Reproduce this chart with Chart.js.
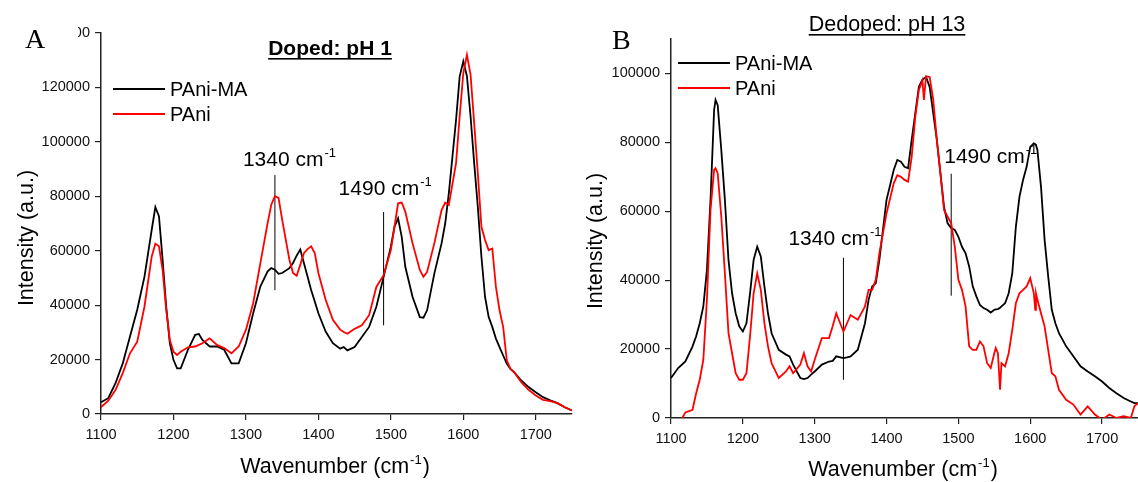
<!DOCTYPE html>
<html>
<head>
<meta charset="utf-8">
<script src="https://cdn.jsdelivr.net/npm/chart.js"></script>
<style>
  html, body { margin: 0; padding: 0; background: #fff; }
  #wrap { position: relative; width: 1138px; height: 482px; overflow: hidden; }
  canvas { position: absolute; top: 0; }
</style>
</head>
<body>
<div id="wrap">
  <canvas id="chartA" width="580" height="482" style="left:0"></canvas>
  <canvas id="chartB" width="558" height="482" style="left:580px"></canvas>
</div>
<script>
// Panel A: doped, pH 1
const aWave = [1100,1110,1120,1130,1140,1150,1160,1170,1175,1180,1185,1190,1195,1200,1205,1210,1220,1230,1235,1240,
  1250,1260,1270,1280,1290,1300,1310,1320,1330,1335,1340,1345,1350,1360,1365,1370,1375,1380,1385,1390,
  1395,1400,1410,1420,1430,1435,1440,1450,1460,1470,1480,1490,1500,1505,1510,1515,1520,1530,1540,1545,
  1550,1560,1570,1575,1580,1590,1595,1600,1605,1610,1615,1620,1625,1630,1635,1640,1645,1650,1655,1660,
  1665,1670,1680,1690,1700,1710,1720,1730,1740,1750];
const aPaniMA = [4300,5800,11300,18600,28500,38300,50500,67700,76000,72700,56700,39500,26000,19900,16800,16800,23600,29100,29400,27200,
  24800,24800,23600,18600,18600,26000,37000,46900,52400,53600,53000,51500,51800,53600,55500,58200,60400,55500,50500,45600,
  41300,37000,30300,26000,24000,24600,23400,24600,28300,32000,39400,50400,61500,68800,71900,65100,54000,43000,35600,35400,
  38100,51600,62700,70000,81100,108100,124100,129600,124100,109400,92200,76200,57800,43000,35600,32000,27700,24600,21500,18500,
  16600,15400,12300,9900,8000,6200,5000,4000,2500,1300];
const aPani = [2450,4900,8800,15000,22300,26600,39500,57900,62600,61600,53000,38300,27200,22900,21700,22900,24500,24800,25400,26000,
  27800,25400,24200,22300,24800,30900,40700,55500,70200,76900,80000,79400,71400,56700,51800,50800,54800,59100,60600,61600,
  59100,51800,42000,34600,31000,30100,29500,31300,32600,36300,46700,51000,60200,68800,77400,77700,74300,62700,52900,50400,
  52200,62700,74900,77700,76800,92200,109400,125300,132000,124700,106900,88500,68800,63900,60200,60800,46700,38100,32000,19700,
  16600,15400,11700,8900,6800,5200,4700,4000,2500,1300];

// Panel B: dedoped, pH 13
const bWave = [1100,1110,1120,1130,1135,1140,1145,1150,1155,1160,1162,1165,1170,1175,1180,1185,1190,1195,1200,1205,
  1210,1215,1220,1225,1230,1235,1240,1250,1260,1265,1270,1280,1285,1290,1295,1300,1310,1320,1325,1330,
  1340,1345,1350,1360,1370,1375,1380,1385,1390,1400,1410,1415,1420,1425,1430,1435,1440,1445,1450,1452,
  1455,1460,1465,1470,1475,1480,1485,1490,1495,1500,1505,1510,1515,1520,1525,1530,1535,1540,1545,1550,
  1552,1555,1558,1560,1565,1570,1575,1580,1585,1590,1595,1600,1605,1607,1608,1610,1615,1620,1625,1630,
  1635,1640,1650,1660,1670,1680,1690,1700,1710,1720,1730,1740,1745,1750];
const bPaniMA = [11600,14500,16400,20800,23700,27500,32400,43000,63300,89400,92300,90800,77800,63300,45900,36200,30400,26600,25100,27500,
  36200,45900,49700,46900,38200,30400,24600,19800,18400,17900,15500,11600,11300,11600,12600,13500,15500,16400,16600,17900,
  17400,17600,17900,19800,27500,34300,38200,39100,45900,63300,72000,74900,74400,72900,72500,80700,88400,96100,98200,98500,
  99000,96100,88400,80700,71000,61300,56500,55100,54600,52600,49700,47800,44000,38200,35300,32800,31900,31400,30600,31400,
  31500,31600,32000,32400,33300,36200,42000,55500,64200,69100,72900,78700,79700,79500,79200,77800,67100,51700,41100,31400,
  27500,24600,20800,17900,15000,13500,12100,10600,8700,7200,5800,4800,4300,4300];
const bPani = [-6000,-2000,1600,2400,7200,11100,16900,34300,60400,72000,72500,71000,58400,42000,24600,18800,13000,11100,11100,13000,
  23700,36200,42000,37200,27500,20800,15900,11600,13500,15000,13000,15500,18800,15000,13500,16900,23200,23200,26600,30400,
  25100,27500,29900,28500,32400,37200,37200,40100,47800,59400,68100,70500,70000,69100,68600,75800,87400,95200,98000,92300,
  99200,99000,92300,80700,71000,60400,58400,56500,49700,40100,37200,32400,20800,19800,19800,22200,20800,15900,14500,18800,
  20300,18800,8200,15900,15000,18800,25600,33300,36200,37200,38200,40600,36200,31400,36200,34300,30400,26600,19800,13000,
  12100,8200,5300,3900,1000,3400,1000,-500,1000,0,500,0,3400,4300];

const seriesNames = ['PAni-MA', 'PAni'];
const xTickValues = [1100, 1200, 1300, 1400, 1500, 1600, 1700];
const aYTicks = [0, 20000, 40000, 60000, 80000, 100000, 120000, 140000];
const bYTicks = [0, 20000, 40000, 60000, 80000, 100000];

// marker lines at 1340 and 1490 cm-1
const markWave = [1340, 1490];
const aMarkLow = [45500, 32600];
const aMarkHigh = [87800, 74200];
const bMarkLow = [11100, 35500];
const bMarkHigh = [46500, 70900];

Chart.defaults.font.family = '"Liberation Sans", Arial, sans-serif';
Chart.defaults.color = '#111';

const FONT = '"Liberation Sans", Arial, sans-serif';

function pts(xs, ys) {
  return xs.map((x, i) => ({ x: x, y: ys[i] }));
}

// text with a "-1" superscript after base
function drawSup(ctx, x, y, base, tail, size, align) {
  const supSize = Math.round(size * 0.62);
  ctx.font = size + 'px ' + FONT;
  const w1 = ctx.measureText(base).width;
  const w3 = ctx.measureText(tail).width;
  ctx.font = supSize + 'px ' + FONT;
  const w2 = ctx.measureText('-1').width;
  const x0 = align === 'center' ? x - (w1 + w2 + w3 + 2) / 2 : x;
  ctx.textAlign = 'left';
  ctx.textBaseline = 'alphabetic';
  ctx.font = size + 'px ' + FONT;
  ctx.fillText(base, x0, y);
  ctx.font = supSize + 'px ' + FONT;
  ctx.fillText('-1', x0 + w1 + 1, y - size * 0.42);
  ctx.font = size + 'px ' + FONT;
  ctx.fillText(tail, x0 + w1 + w2 + 2, y);
}

const decor = {
  id: 'decor',
  afterDraw(chart, args, o) {
    const ctx = chart.ctx;
    const xs = chart.scales.x;
    const ys = chart.scales.y;
    ctx.save();
    ctx.fillStyle = '#000';

    // panel letter (covers part of the top tick label in A)
    if (o.mask) {
      ctx.fillStyle = '#fff';
      ctx.fillRect(o.mask[0], o.mask[1], o.mask[2], o.mask[3]);
      ctx.fillStyle = '#000';
    }
    ctx.font = '28px "Liberation Serif", serif';
    ctx.textAlign = 'left';
    ctx.textBaseline = 'alphabetic';
    ctx.fillText(o.letter, o.letterX, o.letterY);

    // underlined title
    ctx.font = (o.titleBold ? 'bold ' : '') + o.titleSize + 'px ' + FONT;
    ctx.textAlign = 'center';
    ctx.fillText(o.title, o.titleX, o.titleY);
    const tw = ctx.measureText(o.title).width;
    ctx.fillRect(o.titleX - tw / 2, o.titleY + 3, tw, 1.6);

    // legend
    chart.data.datasets.slice(0, 2).forEach((ds, i) => {
      const ly = o.legY + i * 25;
      ctx.strokeStyle = ds.borderColor;
      ctx.lineWidth = 1.8;
      ctx.beginPath();
      ctx.moveTo(o.legX, ly);
      ctx.lineTo(o.legX + 52, ly);
      ctx.stroke();
      ctx.fillStyle = '#000';
      ctx.font = '20px ' + FONT;
      ctx.textAlign = 'left';
      ctx.textBaseline = 'middle';
      ctx.fillText(ds.label, o.legX + 57, ly + 1);
    });

    // marker labels
    ctx.fillStyle = '#000';
    o.marks.forEach((m) => {
      const px = xs.getPixelForValue(m.wave);
      const py = ys.getPixelForValue(m.top);
      drawSup(ctx, px + m.dx, py + m.dy, m.wave + ' cm', '', 21, 'left');
    });

    // axis titles
    drawSup(ctx, o.xTitleX, o.xTitleY, 'Wavenumber (cm', ')', 21.5, 'center');
    ctx.save();
    ctx.translate(o.yTitleX, o.yTitleY);
    ctx.rotate(-Math.PI / 2);
    ctx.font = '21.5px ' + FONT;
    ctx.textAlign = 'center';
    ctx.textBaseline = 'alphabetic';
    ctx.fillText('Intensity (a.u.)', 0, 0);
    ctx.restore();

    ctx.restore();
  }
};

function scaleOpts(min, max, tickVals, fitSize, isX) {
  return {
    type: 'linear',
    min: min,
    max: max,
    afterBuildTicks: (s) => { s.ticks = tickVals.map((v) => ({ value: v })); },
    afterFit: (s) => { if (isX) s.height = fitSize; else s.width = fitSize; },
    grid: { drawOnChartArea: false, drawTicks: true, tickLength: 6, color: '#222', lineWidth: 1.2 },
    border: { display: true, color: '#222', width: 1.5 },
    ticks: {
      autoSkip: false,
      maxRotation: 0,
      padding: isX ? 6 : 5,
      color: '#111',
      font: { size: 14.5 },
      callback: (v) => String(v)
    }
  };
}

function makeChart(id, p) {
  const markSets = markWave.map((w, i) => ({
    label: 'mark' + i,
    data: [{ x: w, y: p.markLow[i] }, { x: w, y: p.markHigh[i] }],
    borderColor: '#000',
    borderWidth: 1,
    pointRadius: 0,
    order: 2
  }));
  return new Chart(document.getElementById(id), {
    type: 'line',
    data: {
      datasets: [
        { label: seriesNames[0], data: pts(p.wave, p.ma), borderColor: '#000', borderWidth: 1.8, pointRadius: 0, order: 1 },
        { label: seriesNames[1], data: pts(p.wave, p.pani), borderColor: '#ff0000', borderWidth: 1.8, pointRadius: 0, order: 0 }
      ].concat(markSets)
    },
    options: {
      responsive: false,
      animation: false,
      events: [],
      layout: { padding: p.padding },
      plugins: { legend: { display: false }, tooltip: { enabled: false }, decor: p.decor },
      scales: {
        x: scaleOpts(1100, 1750, xTickValues, p.xHeight, true),
        y: scaleOpts(0, p.yMax, p.yTicks, 80, false)
      }
    },
    plugins: [decor]
  });
}

makeChart('chartA', {
  wave: aWave, ma: aPaniMA, pani: aPani,
  markLow: aMarkLow, markHigh: aMarkHigh,
  yMax: 140000, yTicks: aYTicks, xHeight: 68,
  padding: { left: 21, top: 33, right: 8, bottom: 0 },
  decor: {
    letter: 'A', letterX: 25, letterY: 48, mask: [20, 22, 58, 20],
    title: 'Doped: pH 1', titleBold: true, titleSize: 21, titleX: 330, titleY: 55,
    legX: 113, legY: 89,
    marks: [{ wave: 1340, top: aMarkHigh[0], dx: -32, dy: -9 }, { wave: 1490, top: aMarkHigh[1], dx: -45, dy: -17 }],
    xTitleX: 335, xTitleY: 473, yTitleX: 33, yTitleY: 238
  }
});

makeChart('chartB', {
  wave: bWave, ma: bPaniMA, pani: bPani,
  markLow: bMarkLow, markHigh: bMarkHigh,
  yMax: 110000, yTicks: bYTicks, xHeight: 64,
  padding: { left: 11, top: 39, right: 0, bottom: 0 },
  decor: {
    letter: 'B', letterX: 32, letterY: 49,
    title: 'Dedoped: pH 13', titleBold: false, titleSize: 21.5, titleX: 307, titleY: 31,
    legX: 98, legY: 63,
    marks: [{ wave: 1340, top: bMarkHigh[0], dx: -55, dy: -13 }, { wave: 1490, top: bMarkHigh[1], dx: -7, dy: -11 }],
    xTitleX: 323, xTitleY: 476, yTitleX: 22, yTitleY: 241
  }
});
</script>
</body>
</html>
